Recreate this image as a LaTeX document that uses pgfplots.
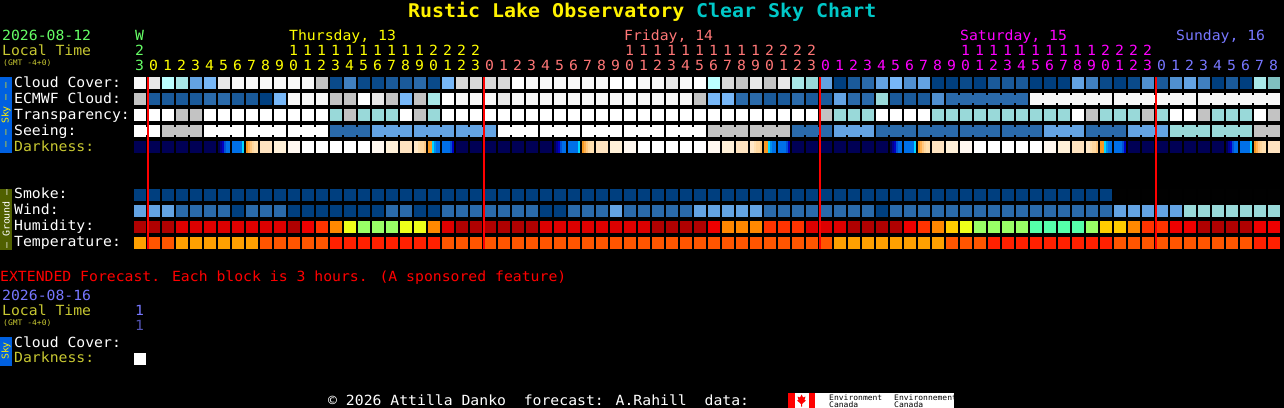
\documentclass[border=0pt]{standalone}
\usepackage{fontspec}
\setmainfont[FakeStretch=1.055]{DejaVu Sans Mono}
\usepackage{pgfplots}
\usepackage{pgfplotstable}
\pgfplotsset{compat=1.18}

% text colours
\definecolor{tGreen}{HTML}{66FF66}\definecolor{tLocal}{HTML}{C8C832}
\definecolor{tThu}{HTML}{FFFF00}\definecolor{tFri}{HTML}{FF7777}
\definecolor{tSat}{HTML}{FF00FF}\definecolor{tSun}{HTML}{7777FF}
\definecolor{tCyan}{HTML}{00C8C8}\definecolor{barSky}{HTML}{0060E0}\definecolor{barGnd}{HTML}{506000}

\newcommand\fs[1]{\fontsize{#1bp}{#1bp}\selectfont}

% one row per hour block, one column per forecast row, numbers index the colormap below
\pgfplotstableread{
i cloud ecmwf transp seeing dark smoke wind humid temp
0 15 12 16 16 18 0 6 22 31
1 14 2 16 16 18 0 6 22 32
2 11 2 16 12 18 0 6 22 32
3 10 2 12 12 18 0 3 23 31
4 6 2 12 12 18 0 3 23 31
5 7 3 16 16 18 0 3 23 31
6 14 3 16 16 18 0 3 23 31
7 15 2 16 16 18 0 0 23 31
8 15 2 16 16 18 0 3 23 31
9 15 0 16 16 19 0 3 23 32
10 15 7 16 16 20 0 3 23 32
11 15 15 16 16 21 0 0 22 32
12 15 15 16 16 16 0 0 24 32
13 12 15 16 16 16 0 0 25 32
14 1 12 9 3 16 0 0 26 33
15 4 12 12 3 16 0 0 28 33
16 1 16 9 3 16 0 0 29 33
17 1 14 9 6 21 0 0 29 33
18 2 12 9 6 20 0 3 29 33
19 2 7 16 6 19 0 3 28 33
20 3 12 12 6 19 0 0 28 33
21 1 10 9 6 18 0 0 26 33
22 7 16 16 6 18 0 3 23 32
23 13 15 16 6 18 0 3 22 32
24 13 15 16 6 18 0 3 22 32
25 13 15 16 6 18 0 3 22 32
26 13 14 16 16 18 0 3 22 32
27 16 15 16 16 18 0 3 22 32
28 15 15 16 16 18 0 3 22 32
29 15 15 16 16 18 0 0 23 32
30 15 15 16 16 18 0 0 23 32
31 15 15 16 16 18 0 3 23 32
32 15 15 16 16 19 0 3 23 32
33 15 15 16 16 19 0 3 23 32
34 16 15 16 16 20 0 6 23 32
35 16 15 16 16 21 0 3 23 32
36 15 15 16 16 16 0 3 23 32
37 15 15 16 16 16 0 3 22 32
38 14 15 16 16 16 0 3 22 32
39 15 15 16 16 16 0 3 22 32
40 16 12 16 16 16 0 6 22 32
41 11 7 16 12 21 0 6 24 32
42 13 7 16 12 20 0 6 26 32
43 12 3 16 12 19 0 6 26 32
44 14 3 16 12 19 0 6 26 32
45 12 2 16 12 18 0 3 25 32
46 14 2 16 12 18 0 3 25 32
47 10 3 16 3 18 0 3 25 32
48 9 2 16 3 18 0 3 23 32
49 6 2 12 3 18 0 3 23 32
50 0 6 9 6 18 0 3 23 31
51 2 3 9 6 18 0 3 22 31
52 3 3 9 6 18 0 3 22 31
53 6 9 16 3 18 0 0 22 31
54 7 2 16 3 18 0 3 22 31
55 5 2 16 3 18 0 3 24 31
56 6 2 16 3 19 0 3 25 31
57 0 5 9 3 19 0 3 26 31
58 0 3 9 3 20 0 3 27 32
59 1 3 9 3 21 0 3 28 32
60 0 3 9 3 16 0 3 29 32
61 2 3 9 3 16 0 3 29 33
62 2 3 9 3 16 0 3 29 33
63 2 3 9 3 16 0 3 29 33
64 0 15 9 3 16 0 3 30 33
65 0 15 9 6 21 0 3 30 33
66 0 15 9 6 20 0 3 30 33
67 6 15 16 6 19 0 3 30 33
68 4 15 12 3 19 0 3 29 33
69 1 15 9 3 18 0 3 27 33
70 0 15 9 3 18 17 6 27 32
71 1 15 9 6 18 17 6 26 32
72 5 15 12 6 18 17 6 25 32
73 2 15 9 6 18 17 6 25 32
74 5 15 16 9 18 17 6 24 32
75 6 15 16 9 18 17 9 24 32
76 4 15 12 9 18 17 9 22 32
77 0 15 9 9 18 17 9 22 32
78 2 15 9 9 18 17 9 22 32
79 0 15 9 9 18 17 9 22 32
80 10 15 16 12 19 17 9 24 33
81 8 15 12 12 19 17 9 24 33
}\skydata

% darkness cells at dawn and dusk, six 2px strips each
\pgfplotstableread{
i s0 s1 s2 s3 s4 s5
6 34 35 36 37 38 38
7 38 38 38 38 38 40
8 41 42 43 44 45 45
20 46 46 45 44 44 43
21 41 41 40 39 38 38
22 38 38 38 38 37 36
30 34 35 36 37 38 38
31 38 38 38 38 38 40
32 41 42 43 44 45 45
44 46 46 45 44 44 43
45 41 41 40 39 38 38
46 38 38 38 38 37 36
54 34 35 36 37 38 38
55 38 38 38 38 38 40
56 41 42 43 44 45 45
68 46 46 45 44 44 43
69 41 41 40 39 38 38
70 38 38 38 38 37 36
78 34 35 36 37 38 38
79 38 38 38 38 38 40
80 41 42 43 44 45 45
}\twilight

\pgfplotsset{
  colormap={csc}{
    % blues 0-7
    rgb255(0)=(0,63,127) rgb255(1)=(10,74,138) rgb255(2)=(26,90,154) rgb255(3)=(42,106,170)
    rgb255(4)=(64,128,192) rgb255(5)=(80,144,208) rgb255(6)=(99,163,227) rgb255(7)=(119,183,247)
    % teals 8-11
    rgb255(8)=(128,192,192) rgb255(9)=(153,217,217) rgb255(10)=(168,232,232) rgb255(11)=(187,255,255)
    % greys, white, black 12-17
    rgb255(12)=(195,195,195) rgb255(13)=(216,216,216) rgb255(14)=(232,232,232) rgb255(15)=(248,248,248)
    rgb255(16)=(255,255,255) rgb255(17)=(0,0,0)
    % night and pale day 18-21
    rgb255(18)=(0,0,85) rgb255(19)=(255,228,192) rgb255(20)=(255,240,216) rgb255(21)=(255,248,240)
    % humidity 22-30
    rgb255(22)=(176,0,0) rgb255(23)=(221,0,0) rgb255(24)=(238,0,0) rgb255(25)=(255,51,0)
    rgb255(26)=(255,136,0) rgb255(27)=(255,204,0) rgb255(28)=(238,255,26) rgb255(29)=(153,255,102)
    rgb255(30)=(85,255,170)
    % temperature 31-33
    rgb255(31)=(255,160,0) rgb255(32)=(255,85,0) rgb255(33)=(255,32,0)
    % twilight 34-49
    rgb255(34)=(0,0,85) rgb255(35)=(0,0,144) rgb255(36)=(0,0,192) rgb255(37)=(0,80,216)
    rgb255(38)=(0,112,232) rgb255(39)=(0,144,240) rgb255(40)=(0,216,255) rgb255(41)=(248,152,32)
    rgb255(42)=(255,176,80) rgb255(43)=(255,200,128) rgb255(44)=(255,216,160) rgb255(45)=(255,224,176)
    rgb255(46)=(255,232,200) rgb255(47)=(255,240,216) rgb255(48)=(255,248,240) rgb255(49)=(255,255,255)},
  paint/.style={scatter, only marks, point meta=explicit,
    scatter/use mapped color={draw=mapped color,fill=mapped color},
    point meta min=0, point meta max=49},
  blocks/.style={paint, mark=square*, mark size=6.5bp,
    scatter/use mapped color={draw=none,fill=mapped color}},
  joins/.style={paint, mark=|, mark size=4bp, mark options={line width=2.4bp}},
  strip/.style={paint, mark=|, mark size=6bp, mark options={line width=2bp}},
  panel/.style={draw=none, fill=#1},
}
\tikzset{
  txt/.style={anchor=base west, inner sep=0pt, font=\fs{14}, text=white},
  gmt/.style={txt, font=\fs{7.6}, text=tLocal},
  dig/.style={anchor=base, inner sep=0pt, font=\fs{14}},
  vert/.style={rotate=90, inner sep=0pt, anchor=center, font=\fs{9.4}},
}

\begin{document}
\begin{tikzpicture}
\begin{axis}[
  scale only axis, width=1284bp, height=408bp,
  xmin=0, xmax=1284, ymin=0, ymax=408, y dir=reverse,
  axis line style={draw=none}, ticks=none,
  axis background/.style={fill=black},
  colormap name=csc,
]
% forecast rows
\addplot[blocks] table[x expr=140+14*\thisrow{i}, y expr=83, meta=cloud] {\skydata};
\addplot[blocks] table[x expr=140+14*\thisrow{i}, y expr=99, meta=ecmwf] {\skydata};
\addplot[blocks] table[x expr=140+14*\thisrow{i}, y expr=115, meta=transp] {\skydata};
\addplot[blocks] table[x expr=140+14*\thisrow{i}, y expr=131, meta=seeing] {\skydata};
\addplot[blocks] table[x expr=140+14*\thisrow{i}, y expr=147, meta=dark] {\skydata};
\addplot[blocks] table[x expr=140+14*\thisrow{i}, y expr=195, meta=smoke] {\skydata};
\addplot[blocks] table[x expr=140+14*\thisrow{i}, y expr=211, meta=wind] {\skydata};
\addplot[blocks] table[x expr=140+14*\thisrow{i}, y expr=227, meta=humid] {\skydata};
\addplot[blocks] table[x expr=140+14*\thisrow{i}, y expr=243, meta=temp] {\skydata};
% notched joins between cells of a longer forecast block
\addplot[joins] table[x expr={(mod(\thisrow{i},3)==1 || \thisrow{i}==81) ? nan : 147+14*\thisrow{i}}, y expr=131, meta=seeing] {\skydata};
\addplot[joins] table[x expr={(\thisrow{i}<58 || mod(\thisrow{i}-58,6)==5) ? nan : 147+14*\thisrow{i}}, y expr=99, meta=ecmwf] {\skydata};
% dawn and dusk strips
\pgfplotsinvokeforeach{0,...,5}{
  \addplot[strip] table[x expr={135+2*#1+14*\thisrow{i}}, y expr=147, meta=s#1] {\twilight};
}
% extended forecast block
\addplot[blocks] coordinates {(140,359)[16]};
% midnight lines, drawn as tall marks so they stay above the blocks
\addplot[only marks, mark=|, mark size=86bp, mark options={draw=red, line width=2bp}]
  coordinates {(148,163)(484,163)(820,163)(1156,163)};
% side bars
\addplot[panel=barSky] coordinates {(0,77)(12,77)(12,153)(0,153)} --cycle;
\addplot[panel=barGnd] coordinates {(0,189)(12,189)(12,250)(0,250)} --cycle;
\addplot[panel=barSky] coordinates {(0,337)(12,337)(12,366)(0,366)} --cycle;
\node[vert, text=yellow] at (axis cs:6,115) {– – Sky – –};
\node[vert, text=white] at (axis cs:6,219) {– Ground –};
\node[vert, text=yellow] at (axis cs:6,351) {Sky};
% logo
\addplot[panel=white] coordinates {(788,393)(954,393)(954,408)(788,408)} --cycle;
\addplot[panel=red] coordinates {(788,393)(794.5,393)(794.5,408)(788,408)} --cycle;
\addplot[panel=red] coordinates {(808.5,393)(815,393)(815,408)(808.5,408)} --cycle;
\addplot[panel=red] coordinates {(801.5,394.5)(803,397.5)(805.5,396.5)(804.5,400)(806,400.5)(802,404)(802,406.5)(801,406.5)(801,404)(797,400.5)(798.5,400)(797.5,396.5)(800,397.5)} --cycle;
\node[txt, font=\fs{7.6}, text=black] at (axis cs:829,400) {Environment};
\node[txt, font=\fs{7.6}, text=black] at (axis cs:829,407) {Canada};
\node[txt, font=\fs{7.6}, text=black] at (axis cs:894,400) {Environnement};
\node[txt, font=\fs{7.6}, text=black] at (axis cs:894,407) {Canada};
% title
\node[txt, font=\fs{18.9}\bfseries, text=yellow] at (axis cs:408,18) {Rustic Lake Observatory};
\node[txt, font=\fs{18.9}\bfseries, text=tCyan] at (axis cs:696,18) {Clear Sky Chart};
% header
\node[txt, text=tGreen] at (axis cs:2,40) {2026-08-12};
\node[txt, text=tLocal] at (axis cs:2,55) {Local Time};
\node[gmt] at (axis cs:3,65) {(GMT -4+0)};
\node[dig, text=tGreen] at (axis cs:139.5,40) {W};
\node[txt, text=tThu] at (axis cs:289,40) {Thursday, 13};
\node[txt, text=tFri] at (axis cs:624,40) {Friday, 14};
\node[txt, text=tSat] at (axis cs:960,40) {Saturday, 15};
\node[txt, text=tSun] at (axis cs:1176,40) {Sunday, 16};
% hour digits
\pgfplotsforeachungrouped \i in {0,...,81}{
  \pgfmathtruncatemacro\hh{mod(23+\i,24)}
  \pgfmathtruncatemacro\ones{mod(\hh,10)}
  \pgfmathtruncatemacro\tens{floor(\hh/10)}
  \pgfmathsetmacro\xx{139.5+14*\i}
  \ifnum\i<1 \def\dc{tGreen}\else\ifnum\i<25 \def\dc{tThu}\else\ifnum\i<49 \def\dc{tFri}\else\ifnum\i<73 \def\dc{tSat}\else\def\dc{tSun}\fi\fi\fi\fi
  \edef\temp{\noexpand\node[dig, text=\dc] at (axis cs:\xx,70) {\ones};}\temp
  \ifnum\tens>0
    \edef\temp{\noexpand\node[dig, text=\dc] at (axis cs:\xx,55) {\tens};}\temp
  \fi
}
% row labels
\node[txt] at (axis cs:14,87) {Cloud Cover:};
\node[txt] at (axis cs:14,103) {ECMWF Cloud:};
\node[txt] at (axis cs:14,119) {Transparency:};
\node[txt] at (axis cs:14,135) {Seeing:};
\node[txt, text=tLocal] at (axis cs:14,151) {Darkness:};
\node[txt] at (axis cs:14,198) {Smoke:};
\node[txt] at (axis cs:14,214) {Wind:};
\node[txt] at (axis cs:14,230) {Humidity:};
\node[txt] at (axis cs:14,246) {Temperature:};
% extended section
\node[txt, text=red] at (axis cs:0,281) {EXTENDED Forecast. Each block is 3 hours. (A sponsored feature)};
\node[txt, text=tSun] at (axis cs:2,300) {2026-08-16};
\node[txt, text=tLocal] at (axis cs:2,315) {Local Time};
\node[gmt] at (axis cs:3,325) {(GMT -4+0)};
\node[dig, text=tSun] at (axis cs:139.5,315) {1};
\node[dig, text=tSun!70!black] at (axis cs:139.5,330) {1};
\node[txt] at (axis cs:14,347) {Cloud Cover:};
\node[txt, text=tLocal] at (axis cs:14,362) {Darkness:};
% footer
\node[txt] at (axis cs:328,405) {© 2026 Attilla Danko~~forecast: A.Rahill~~data:};
\end{axis}
\end{tikzpicture}
\end{document}
